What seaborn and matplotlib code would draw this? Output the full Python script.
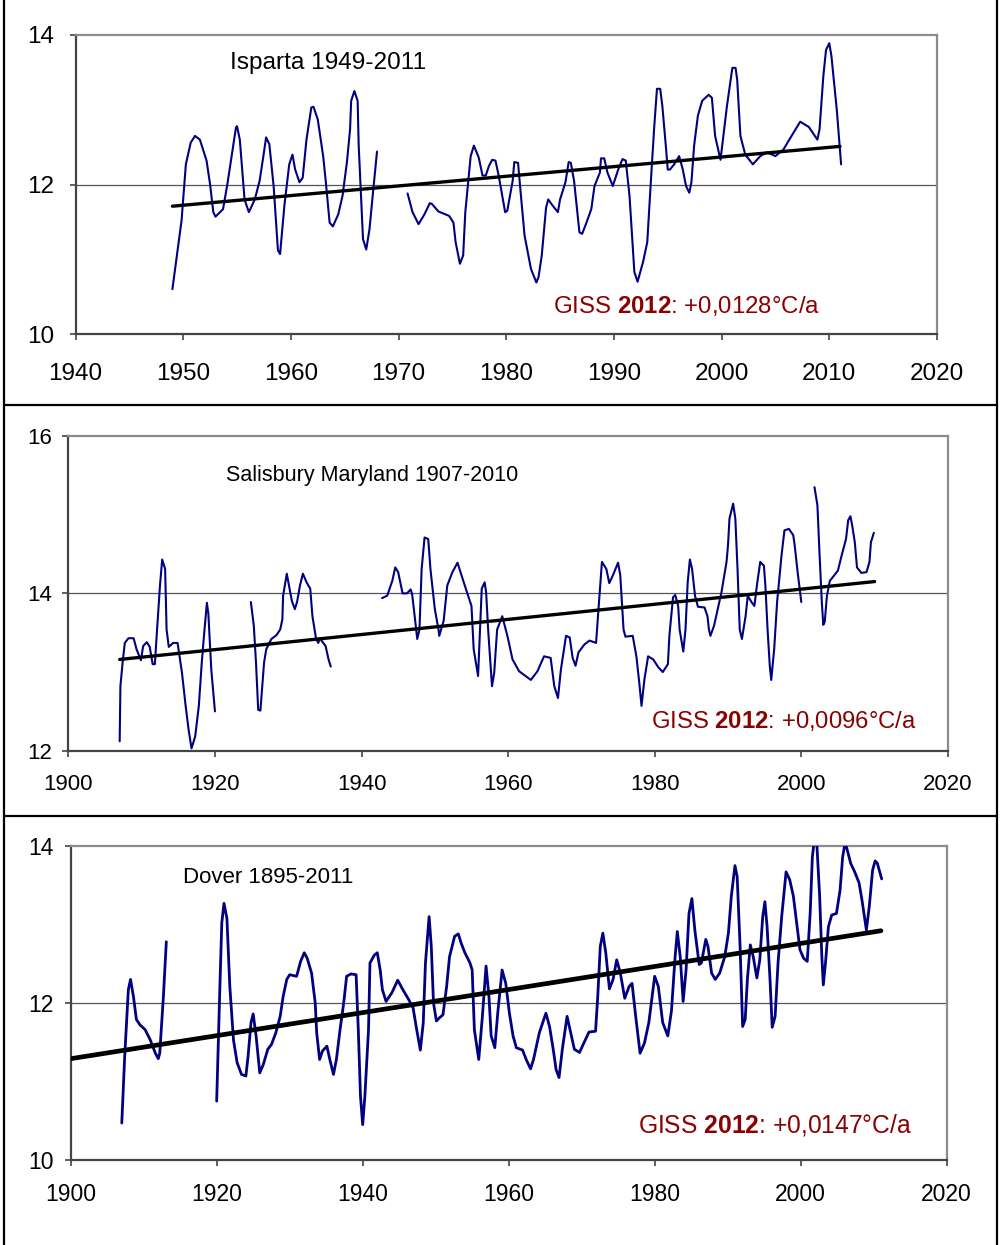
import pandas as pd
import matplotlib
matplotlib.use("Agg")
import matplotlib.pyplot as plt
from matplotlib.lines import Line2D
import seaborn as sns

# ---- Isparta 1949-2011 (two pieces, gap around 1969-1970) ----
isparta_years_1 = [1949.0, 1949.85, 1950.25, 1950.7, 1951.1, 1951.55, 1952.17, 1952.5, 1952.8, 1953.0,
                   1953.7, 1954.1, 1954.9, 1955.0, 1955.26, 1955.7, 1956.1, 1956.65, 1957.1, 1957.5,
                   1957.7, 1958.0, 1958.4, 1958.8, 1959.0, 1959.4, 1959.85, 1960.15, 1960.4, 1960.8,
                   1961.1, 1961.45, 1961.9, 1962.1, 1962.5, 1963.0, 1963.25, 1963.6, 1963.9, 1964.4,
                   1964.8, 1965.2, 1965.5, 1965.6, 1965.9, 1966.2, 1966.3, 1966.7, 1967.0, 1967.3,
                   1967.6, 1968.0]
isparta_temp_1 = [10.6, 11.52, 12.27, 12.56, 12.65, 12.6, 12.32, 12.0, 11.63, 11.57,
                  11.67, 12.0, 12.76, 12.78, 12.6, 11.8, 11.63, 11.8, 12.05, 12.43,
                  12.63, 12.54, 11.98, 11.12, 11.07, 11.72, 12.27, 12.4, 12.2, 12.03,
                  12.09, 12.6, 13.03, 13.04, 12.87, 12.38, 12.03, 11.49, 11.44, 11.6,
                  11.85, 12.29, 12.74, 13.12, 13.25, 13.12, 12.52, 11.27, 11.13, 11.4,
                  11.85, 12.44]
isparta_years_2 = [1970.84, 1971.3, 1971.86, 1972.4, 1972.9, 1973.1, 1973.7, 1974.7, 1975.1, 1975.3,
                   1975.7, 1976.0, 1976.2, 1976.7, 1977.0, 1977.45, 1977.8, 1978.1, 1978.4, 1978.7,
                   1979.0, 1979.3, 1979.9, 1980.1, 1980.6, 1980.75, 1981.1, 1981.2, 1981.7, 1982.3,
                   1982.8, 1983.0, 1983.3, 1983.7, 1983.9, 1984.3, 1984.8, 1985.0, 1985.5, 1985.8,
                   1986.0, 1986.3, 1986.8, 1987.05, 1987.4, 1987.9, 1988.2, 1988.7, 1988.8, 1989.1,
                   1989.4, 1989.9, 1990.4, 1990.8, 1991.1, 1991.45, 1991.9, 1992.2, 1992.7, 1993.1,
                   1993.3, 1993.5, 1993.75, 1994.0, 1994.3, 1994.5, 1994.85, 1995.0, 1995.2, 1995.6,
                   1996.06, 1996.4, 1996.7, 1997.0, 1997.2, 1997.45, 1997.8, 1998.2, 1998.8, 1999.1,
                   1999.4, 1999.9, 2000.5, 2001.0, 2001.3, 2001.45, 2001.75, 2002.2, 2002.9, 2003.6,
                   2004.2, 2005.0, 2005.75, 2006.5, 2007.3, 2008.1, 2008.9, 2009.1, 2009.45, 2009.7,
                   2010.0, 2010.2, 2010.7, 2011.1]
isparta_temp_2 = [11.88, 11.63, 11.47, 11.6, 11.75, 11.74, 11.64, 11.58, 11.49, 11.23,
                  10.94, 11.05, 11.63, 12.38, 12.52, 12.36, 12.12, 12.12, 12.25, 12.33,
                  12.32, 12.12, 11.63, 11.65, 12.05, 12.3, 12.29, 12.12, 11.32, 10.87,
                  10.69, 10.76, 11.05, 11.69, 11.8, 11.72, 11.63, 11.8, 12.03, 12.3,
                  12.29, 12.05, 11.36, 11.34, 11.47, 11.67, 11.98, 12.16, 12.35, 12.35,
                  12.16, 11.98, 12.2, 12.34, 12.32, 11.85, 10.83, 10.7, 10.96, 11.23,
                  11.72, 12.2, 12.78, 13.28, 13.28, 13.05, 12.47, 12.2, 12.2, 12.27,
                  12.38, 12.2, 11.98, 11.89, 12.03, 12.52, 12.92, 13.12, 13.2, 13.16,
                  12.65, 12.33, 13.05, 13.56, 13.56, 13.4, 12.65, 12.4, 12.27, 12.38,
                  12.43, 12.38, 12.47, 12.65, 12.84, 12.77, 12.6, 12.74, 13.45, 13.8,
                  13.89, 13.72, 13.0, 12.27]
isparta_trend_years = [1949, 2011]
isparta_trend = [11.71, 12.51]

# ---- Salisbury Maryland 1907-2010 ----
salisbury_years_1 = [1907.0, 1907.1, 1907.4, 1907.7, 1908.2, 1908.9, 1909.3, 1909.9, 1910.2, 1910.7,
                     1911.1, 1911.5, 1911.8, 1912.1, 1912.5, 1912.8, 1913.2, 1913.4, 1913.7, 1914.3,
                     1914.9, 1915.5, 1916.0, 1916.4, 1916.8, 1917.3, 1917.8, 1918.2, 1918.5, 1918.9,
                     1919.1, 1919.5, 1920.0]
salisbury_temp_1 = [12.12, 12.82, 13.12, 13.37, 13.43, 13.43, 13.29, 13.15, 13.33, 13.38,
                    13.32, 13.1, 13.1, 13.54, 14.1, 14.43, 14.31, 13.54, 13.32, 13.37,
                    13.37, 12.99, 12.57, 12.27, 12.03, 12.18, 12.57, 13.12, 13.46, 13.88,
                    13.74, 13.03, 12.5]
salisbury_years_2 = [1924.9, 1925.3, 1925.6, 1925.9, 1926.2, 1926.7, 1927.0, 1927.7, 1928.4, 1928.9,
                     1929.2, 1929.3, 1929.8, 1930.1, 1930.5, 1930.9, 1931.2, 1931.6, 1932.0, 1932.5,
                     1933.0, 1933.3, 1933.8, 1934.1, 1934.3, 1935.1, 1935.5, 1935.8]
salisbury_temp_2 = [13.89, 13.59, 13.12, 12.52, 12.51, 13.12, 13.29, 13.42, 13.47, 13.54,
                    13.67, 13.97, 14.25, 14.1, 13.9, 13.8, 13.89, 14.1, 14.25, 14.14,
                    14.06, 13.71, 13.42, 13.37, 13.43, 13.33, 13.16, 13.07]
salisbury_years_3 = [1942.8, 1943.5, 1944.2, 1944.6, 1945.0, 1945.6, 1946.2, 1946.7, 1946.9, 1947.3,
                     1947.6, 1947.9, 1948.2, 1948.6, 1949.1, 1949.4, 1950.0, 1950.5, 1950.6, 1951.2,
                     1951.7, 1952.4, 1953.1, 1953.5, 1954.4, 1955.0, 1955.3, 1955.9, 1956.4, 1956.8,
                     1957.0, 1957.3, 1957.8, 1958.1, 1958.5, 1959.2, 1959.9, 1960.6, 1961.5, 1963.1,
                     1964.0, 1964.9, 1965.8, 1966.3, 1966.8, 1967.2, 1967.9, 1968.4, 1968.8, 1969.2,
                     1969.6, 1970.4, 1971.1, 1972.0, 1972.4, 1972.8, 1973.4, 1973.8, 1974.3, 1975.0,
                     1975.3, 1975.75, 1976.0, 1977.0, 1977.5, 1977.9, 1978.2, 1978.6, 1979.1, 1979.8,
                     1980.5, 1981.1, 1981.8, 1982.0, 1982.5, 1982.8, 1983.2, 1983.4, 1983.9, 1984.2,
                     1984.5, 1984.8, 1985.1, 1985.5, 1985.9, 1986.8, 1987.2, 1987.4, 1987.6, 1988.1,
                     1988.6, 1989.1, 1989.8, 1990.0, 1990.2, 1990.7, 1991.0, 1991.3, 1991.6, 1991.9,
                     1992.4, 1992.7, 1993.2, 1993.6, 1994.0, 1994.4, 1994.9, 1995.1, 1995.4, 1995.7,
                     1995.9, 1996.3, 1996.7, 1997.3, 1997.7, 1998.3, 1998.9, 1999.1, 1999.5, 2000.0]
salisbury_temp_3 = [13.94, 13.97, 14.16, 14.33, 14.27, 14.0, 14.0, 14.05, 13.99, 13.67,
                    13.42, 13.54, 14.31, 14.71, 14.69, 14.31, 13.8, 13.54, 13.46, 13.65,
                    14.1, 14.27, 14.39, 14.27, 14.01, 13.84, 13.29, 12.95, 14.06, 14.14,
                    14.01, 13.5, 12.82, 12.99, 13.54, 13.71, 13.46, 13.16, 13.01, 12.9,
                    13.01, 13.2, 13.18, 12.82, 12.67, 13.03, 13.46, 13.44, 13.18, 13.08,
                    13.25, 13.35, 13.4, 13.37, 13.89, 14.4, 14.31, 14.13, 14.23, 14.39,
                    14.23, 13.54, 13.45, 13.46, 13.2, 12.86, 12.57, 12.91, 13.2, 13.16,
                    13.06, 13.0, 13.1, 13.46, 13.95, 13.98, 13.84, 13.54, 13.26, 13.54,
                    14.14, 14.43, 14.31, 13.97, 13.83, 13.82, 13.71, 13.54, 13.46, 13.59,
                    13.8, 14.01, 14.4, 14.61, 14.95, 15.14, 14.95, 14.31, 13.54, 13.42,
                    13.71, 13.97, 13.89, 13.84, 14.14, 14.4, 14.35, 14.1, 13.54, 13.08,
                    12.9, 13.29, 13.89, 14.48, 14.8, 14.82, 14.74, 14.61, 14.27, 13.89]
salisbury_years_4 = [2001.8, 2002.2, 2002.5, 2002.8, 2003.0, 2003.2, 2003.5, 2003.9, 2004.5, 2005.0,
                     2005.5, 2006.1, 2006.4, 2006.7, 2006.95, 2007.3, 2007.6, 2008.2, 2008.9, 2009.3,
                     2009.5, 2009.9]
salisbury_temp_4 = [15.35, 15.12, 14.48, 13.89, 13.6, 13.64, 13.97, 14.16, 14.23, 14.29,
                    14.48, 14.69, 14.93, 14.98, 14.86, 14.65, 14.33, 14.26, 14.27, 14.4,
                    14.65, 14.77]
salisbury_trend_years = [1907, 2010]
salisbury_trend = [13.16, 14.15]

# ---- Dover 1895-2011 ----
dover_years_1 = [1907.0, 1907.4, 1907.9, 1908.2, 1908.6, 1909.0, 1909.5, 1910.2, 1910.9, 1911.6,
                 1912.0, 1912.2, 1912.7, 1913.1]
dover_temp_1 = [10.47, 11.32, 12.17, 12.3, 12.08, 11.79, 11.72, 11.66, 11.53, 11.36,
                11.29, 11.36, 12.08, 12.78]
dover_years_2 = [1920.0, 1920.4, 1920.7, 1921.0, 1921.4, 1921.8, 1922.3, 1922.8, 1923.4, 1924.0,
                 1924.3, 1924.7, 1925.0, 1925.4, 1925.9, 1926.4, 1927.0, 1927.5, 1928.1, 1928.7,
                 1929.1, 1929.6, 1930.0, 1930.95, 1931.5, 1932.0, 1932.4, 1933.0, 1933.5, 1933.7,
                 1934.1, 1934.5, 1935.1, 1935.5, 1936.0, 1936.4, 1936.9, 1937.4, 1937.8, 1938.4,
                 1939.1, 1939.4, 1939.7, 1940.0, 1940.3, 1940.8, 1941.0, 1941.6, 1942.0, 1942.4,
                 1942.7, 1943.2, 1944.0, 1944.8, 1945.5, 1946.2, 1946.9, 1947.4, 1947.9, 1948.3,
                 1948.6, 1949.1, 1949.4, 1949.7, 1950.1, 1950.5, 1951.0, 1951.5, 1951.9, 1952.6,
                 1953.1, 1953.5, 1954.0, 1954.7, 1955.0, 1955.3, 1955.9, 1956.4, 1956.9, 1957.3,
                 1957.6, 1958.1, 1958.5, 1959.1, 1959.6, 1960.1, 1960.6, 1961.05, 1961.9, 1962.4,
                 1963.0, 1963.4, 1964.2, 1965.1, 1965.6, 1966.1, 1966.5, 1966.9, 1967.35, 1968.0,
                 1968.4, 1969.0, 1969.7, 1970.3, 1971.0, 1971.9, 1972.2, 1972.55, 1972.9, 1973.3,
                 1973.8, 1974.3, 1974.8, 1975.3, 1975.9, 1976.5, 1976.9, 1977.4, 1978.0, 1978.6,
                 1979.2, 1980.0, 1980.5, 1981.1, 1981.8, 1982.3, 1982.8, 1983.1, 1983.5, 1983.9,
                 1984.3, 1984.7, 1985.1, 1985.5, 1986.1, 1986.4, 1987.0, 1987.3, 1987.8, 1988.3,
                 1988.9, 1989.6, 1990.1, 1990.5, 1991.0, 1991.3, 1991.7, 1992.05, 1992.4, 1992.7,
                 1993.1, 1993.5, 1994.0, 1994.4, 1994.8, 1995.1, 1995.4, 1995.8, 1996.1, 1996.5,
                 1996.9, 1997.4, 1998.0, 1998.5, 1999.0, 1999.45, 1999.9, 2000.4, 2000.9, 2001.3,
                 2001.6, 2001.9, 2002.2, 2002.6, 2002.9, 2003.1, 2003.4, 2003.8, 2004.25, 2004.9,
                 2005.4, 2005.75, 2006.1, 2006.4, 2006.85, 2007.4, 2008.0, 2008.4, 2008.8, 2009.0,
                 2009.4, 2009.85, 2010.2, 2010.5, 2011.1]
dover_temp_2 = [10.75, 12.08, 13.02, 13.27, 13.08, 12.21, 11.53, 11.24, 11.09, 11.07,
                11.32, 11.75, 11.86, 11.58, 11.11, 11.22, 11.41, 11.47, 11.62, 11.83,
                12.08, 12.3, 12.36, 12.34, 12.53, 12.64, 12.57, 12.38, 12.0, 11.62,
                11.28, 11.39, 11.45, 11.28, 11.09, 11.28, 11.66, 12.0, 12.34, 12.37,
                12.36, 11.66, 10.81, 10.45, 10.81, 11.66, 12.51, 12.61, 12.64, 12.42,
                12.17, 12.02, 12.13, 12.29, 12.17, 12.06, 11.94, 11.66, 11.4, 11.75,
                12.51, 13.1, 12.72, 12.0, 11.77, 11.81, 11.85, 12.21, 12.59, 12.85,
                12.88, 12.76, 12.64, 12.51, 12.42, 11.66, 11.28, 11.83, 12.47, 12.08,
                11.58, 11.43, 11.87, 12.42, 12.25, 11.87, 11.58, 11.43, 11.4, 11.28,
                11.16, 11.28, 11.62, 11.87, 11.7, 11.41, 11.15, 11.05, 11.41, 11.83,
                11.66, 11.41, 11.37, 11.49, 11.63, 11.64, 12.08, 12.72, 12.89, 12.64,
                12.18, 12.3, 12.55, 12.38, 12.06, 12.21, 12.25, 11.83, 11.36, 11.49,
                11.75, 12.34, 12.21, 11.75, 11.58, 11.9, 12.59, 12.91, 12.59, 12.02,
                12.42, 13.14, 13.33, 12.93, 12.49, 12.51, 12.81, 12.72, 12.38, 12.3,
                12.38, 12.59, 12.89, 13.36, 13.75, 13.61, 12.72, 11.7, 11.79, 12.3,
                12.74, 12.59, 12.32, 12.55, 13.1, 13.29, 12.97, 12.3, 11.69, 11.83,
                12.51, 13.1, 13.67, 13.57, 13.36, 13.02, 12.68, 12.57, 12.53, 13.14,
                13.86, 14.1, 14.05, 13.36, 12.59, 12.23, 12.51, 12.97, 13.12, 13.14,
                13.44, 13.86, 14.05, 13.94, 13.78, 13.67, 13.53, 13.31, 13.06, 12.93,
                13.23, 13.69, 13.81, 13.78, 13.58]
dover_trend_years = [1900, 2011]
dover_trend = [11.29, 12.92]

sns.set_theme(style="white")
plt.rcParams["font.family"] = ["Liberation Sans", "DejaVu Sans"]
plt.rcParams["mathtext.fontset"] = "custom"
plt.rcParams["mathtext.rm"] = "Liberation Sans"
plt.rcParams["mathtext.bf"] = "Liberation Sans:bold"

NAVY = "#000080"
DARKRED = "#8b0000"


def to_frame(segments):
    parts = [pd.DataFrame({"year": yrs, "temp": vals, "seg": i})
             for i, (yrs, vals) in enumerate(segments)]
    return pd.concat(parts, ignore_index=True)


def draw_panel(ax, segments, trend_x, trend_y, xticks, yticks, title, title_pos,
               slope, giss_pos, lw, tlw, tick_fs, title_fs, giss_fs, xpad, ypad):
    df = to_frame(segments)
    sns.lineplot(data=df, x="year", y="temp", units="seg", estimator=None, sort=False,
                 color=NAVY, linewidth=lw, ax=ax, zorder=3)
    sns.lineplot(x=trend_x, y=trend_y, color="black", linewidth=tlw, ax=ax, zorder=4)

    ax.set_xlim(xticks[0], xticks[-1])
    ax.set_ylim(yticks[0], yticks[-1])
    ax.set_xticks(xticks)
    ax.set_yticks(yticks)
    ax.set_xlabel("")
    ax.set_ylabel("")
    ax.axhline(yticks[1], color="#555555", linewidth=0.9, zorder=1)

    for side in ["top", "right"]:
        ax.spines[side].set_color("#8c8c8c")
        ax.spines[side].set_linewidth(1.6)
    for side in ["left", "bottom"]:
        ax.spines[side].set_color("#444444")
        ax.spines[side].set_linewidth(1.6)
    ax.tick_params(bottom=True, left=True, direction="out", length=4, width=1.2,
                   color="#444444", labelsize=tick_fs, labelcolor="black")
    ax.tick_params(axis="x", pad=xpad)
    ax.tick_params(axis="y", pad=ypad)

    ax.text(title_pos[0], title_pos[1], title, fontsize=title_fs, color="black",
            ha="left", va="center")
    ax.text(giss_pos[0], giss_pos[1], r"GISS $\mathbf{2012}$: " + slope, fontsize=giss_fs,
            color=DARKRED, ha="left", va="center")


fig = plt.figure(figsize=(10.04, 12.45), dpi=100)

ax1 = fig.add_axes([0.0752, 0.7317, 0.858, 0.2402])
draw_panel(ax1, [(isparta_years_1, isparta_temp_1), (isparta_years_2, isparta_temp_2)],
           isparta_trend_years, isparta_trend,
           list(range(1940, 2021, 10)), [10, 12, 14],
           "Isparta 1949-2011", (1954.35, 13.62), "+0,0128°C/a", (1984.3, 10.37),
           lw=1.5, tlw=2.4, tick_fs=17.5, title_fs=17.6, giss_fs=17.3, xpad=16.5, ypad=11.5)

ax2 = fig.add_axes([0.0681, 0.397, 0.876, 0.2528])
draw_panel(ax2, [(salisbury_years_1, salisbury_temp_1), (salisbury_years_2, salisbury_temp_2),
                 (salisbury_years_3, salisbury_temp_3), (salisbury_years_4, salisbury_temp_4)],
           salisbury_trend_years, salisbury_trend,
           list(range(1900, 2021, 20)), [12, 14, 16],
           "Salisbury Maryland 1907-2010", (1921.5, 15.5), "+0,0096°C/a", (1979.5, 12.38),
           lw=1.5, tlw=2.4, tick_fs=16, title_fs=15.5, giss_fs=17.2, xpad=12.5, ypad=8)

ax3 = fig.add_axes([0.0704, 0.0683, 0.8725, 0.2522])
draw_panel(ax3, [(dover_years_1, dover_temp_1), (dover_years_2, dover_temp_2)],
           dover_trend_years, dover_trend,
           list(range(1900, 2021, 20)), [10, 12, 14],
           "Dover 1895-2011", (1915.4, 13.6), "+0,0147°C/a", (1977.7, 10.45),
           lw=2.0, tlw=3.4, tick_fs=16.5, title_fs=16, giss_fs=17.7, xpad=12.5, ypad=8.4)

# table-like frame around the three charts
for x in [4 / 1004, 997 / 1004]:
    fig.add_artist(Line2D([x, x], [0, 1], transform=fig.transFigure, color="black", lw=1.6))
for y in [1 - 405 / 1245, 1 - 816 / 1245]:
    fig.add_artist(Line2D([4 / 1004, 997 / 1004], [y, y], transform=fig.transFigure,
                          color="black", lw=1.6))

fig.savefig("out.png", dpi=100, facecolor="white")
